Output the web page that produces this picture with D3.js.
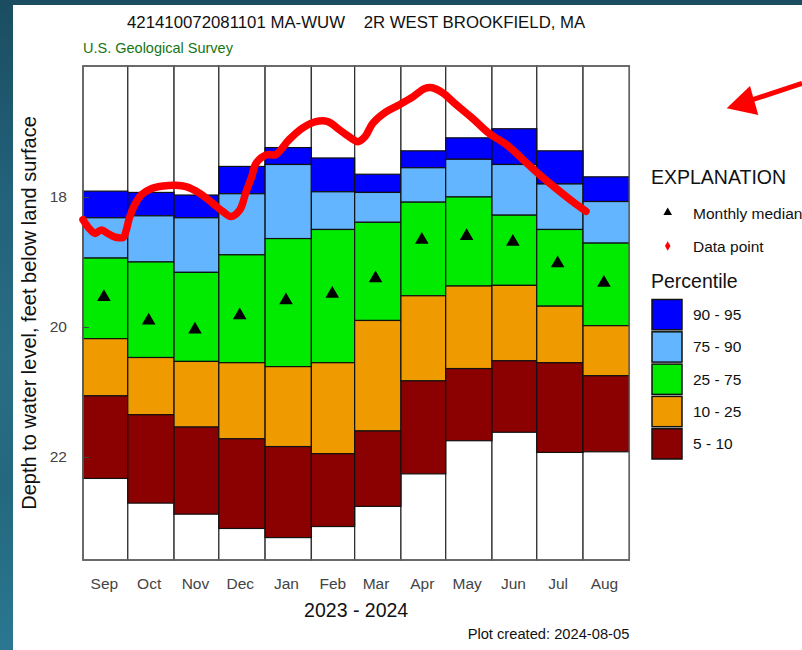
<!DOCTYPE html>
<html><head><meta charset="utf-8">
<script src="https://cdn.jsdelivr.net/npm/d3@7"></script>
<style>
html,body{margin:0;padding:0;overflow:hidden;background:#1e5a70}
text{font-family:"Liberation Sans",Arial,Helvetica,sans-serif}
</style>
</head><body>
<svg id="c" width="802" height="650"></svg>
<script>
// ---------------- data ----------------
const months = ["Sep","Oct","Nov","Dec","Jan","Feb","Mar","Apr","May","Jun","Jul","Aug"];
const monthStarts = ["2023-09-01","2023-10-01","2023-11-01","2023-12-01","2024-01-01","2024-02-01",
  "2024-03-01","2024-04-01","2024-05-01","2024-06-01","2024-07-01","2024-08-01","2024-09-01"];
const monthMids = ["2023-09-15","2023-10-15","2023-11-15","2023-12-15","2024-01-15","2024-02-15",
  "2024-03-15","2024-04-15","2024-05-15","2024-06-15","2024-07-15","2024-08-15"];

const p95 = [17.91,17.93,17.97,17.53,17.24,17.40,17.65,17.29,17.09,16.95,17.29,17.69];
const p90 = [18.32,18.29,18.32,17.95,17.50,17.92,17.93,17.55,17.42,17.50,17.80,18.07];
const p75 = [18.94,19.00,19.16,18.89,18.64,18.50,18.39,18.08,18.00,18.28,18.50,18.71];
const medians = [19.54,19.90,20.04,19.82,19.59,19.49,19.25,18.66,18.60,18.69,19.02,19.32];
const p25 = [20.18,20.47,20.53,20.55,20.61,20.55,19.90,19.52,19.37,19.36,19.68,19.98];
const p10 = [21.06,21.35,21.54,21.72,21.84,21.95,21.60,20.83,20.64,20.52,20.55,20.75];
const p5  = [22.33,22.71,22.88,23.10,23.24,23.07,22.76,22.26,21.75,21.62,21.93,21.92];

const obsDates = ["2023-09-01","2023-09-05","2023-09-09","2023-09-13","2023-09-19","2023-09-23","2023-09-28",
  "2023-09-30","2023-10-02","2023-10-05","2023-10-10","2023-10-17","2023-10-25","2023-11-02","2023-11-09",
  "2023-11-18","2023-11-27","2023-12-04","2023-12-09","2023-12-15","2023-12-19","2023-12-23","2023-12-26",
  "2024-01-02","2024-01-08","2024-01-17","2024-01-26","2024-02-04","2024-02-12","2024-02-20","2024-02-28",
  "2024-03-03","2024-03-08","2024-03-13","2024-03-22","2024-03-31","2024-04-09","2024-04-17","2024-04-22",
  "2024-04-29","2024-05-08","2024-05-19","2024-05-30","2024-06-11","2024-06-22","2024-07-03","2024-07-14",
  "2024-07-25","2024-08-03"];
const obsDepths = [18.35,18.48,18.56,18.51,18.58,18.62,18.62,
  18.51,18.33,18.15,17.97,17.87,17.83,17.82,17.84,
  17.94,18.10,18.23,18.30,18.20,17.94,17.69,17.48,
  17.35,17.35,17.12,16.94,16.84,16.84,16.97,17.10,
  17.15,17.07,16.87,16.69,16.58,16.46,16.33,16.32,
  16.40,16.58,16.79,17.02,17.20,17.43,17.66,17.87,
  18.07,18.22];

const yTicks = [18, 20, 22];
const yDomain = [15.985, 23.585];
const bandLabels = ["90 - 95","75 - 90","25 - 75","10 - 25","5 - 10"];
const bandColors = ["#0000ff","#63b5ff","#00eb00","#ef9b00","#8b0000"];

// ---------------- layout ----------------
const W = 802, H = 650;
const plot = {left: 83, right: 629.3, top: 66, bottom: 560};
const parse = d3.utcParse("%Y-%m-%d");

const svg = d3.select("#c");
const defs = svg.append("defs");
const bg = defs.append("linearGradient").attr("id","bg").attr("x1",0).attr("y1",0).attr("x2",0).attr("y2",1);
[["0%","#1b4d61"],["30%","#22627a"],["55%","#286d84"],["75%","#23687e"],["100%","#2b7791"]]
  .forEach(([o,c]) => bg.append("stop").attr("offset",o).attr("stop-color",c));
svg.append("rect").attr("width",W).attr("height",H).attr("fill","url(#bg)");
svg.append("rect").attr("x",13).attr("y",5).attr("width",W-13).attr("height",H-5).attr("fill","#fff");

const x = d3.scaleUtc().domain([parse(monthStarts[0]), parse(monthStarts[12])]).range([plot.left, plot.right]);
const y = d3.scaleLinear().domain(yDomain).range([plot.top, plot.bottom]);

// columns
const g = svg.append("g");
const cols = months.map((m,i) => ({
  m, x0: x(parse(monthStarts[i])), x1: x(parse(monthStarts[i+1])),
  bands: [[p95[i],p90[i]],[p90[i],p75[i]],[p75[i],p25[i]],[p25[i],p10[i]],[p10[i],p5[i]]]
}));
g.selectAll("rect.col").data(cols).join("rect").attr("class","col")
  .attr("x",d=>d.x0).attr("width",d=>d.x1-d.x0)
  .attr("y",plot.top).attr("height",plot.bottom-plot.top)
  .attr("fill","#fff").attr("stroke","#333").attr("stroke-width",1.3);
cols.forEach(c => {
  g.selectAll(null).data(c.bands).join("rect")
    .attr("x",c.x0).attr("width",c.x1-c.x0)
    .attr("y",d=>y(d[0])).attr("height",d=>y(d[1])-y(d[0]))
    .attr("fill",(d,k)=>bandColors[k]).attr("stroke","#111").attr("stroke-width",1.2);
});

// frame
svg.append("rect").attr("x",plot.left).attr("y",plot.top)
  .attr("width",plot.right-plot.left).attr("height",plot.bottom-plot.top)
  .attr("fill","none").attr("stroke","#666").attr("stroke-width",1.5);

// medians
svg.append("g").selectAll("path").data(medians).join("path")
  .attr("d", d3.symbol(d3.symbolTriangle, 80))
  .attr("transform",(d,i)=>`translate(${x(parse(monthMids[i]))},${y(d)})`)
  .attr("fill","#000");

// data line
const obs = obsDates.map((d,i)=>({date:parse(d), depth:obsDepths[i]}));
svg.append("path").datum(obs)
  .attr("d", d3.line().x(d=>x(d.date)).y(d=>y(d.depth)).curve(d3.curveCatmullRom))
  .attr("fill","none").attr("stroke","#ff0000").attr("stroke-width",7.5)
  .attr("stroke-linejoin","round").attr("stroke-linecap","round");

// y axis
const ya = svg.append("g").attr("transform",`translate(${plot.left},0)`)
  .call(d3.axisLeft(y).tickValues(yTicks).tickSize(-6).tickPadding(16).tickFormat(d3.format("d")));
ya.select(".domain").remove();
ya.selectAll("line").attr("stroke","#444");
ya.selectAll("text").attr("font-size","15.5px").attr("fill","#444")
  .style("font-family","'Liberation Sans',Arial,sans-serif");

// x axis (month labels)
const xa = svg.append("g").attr("transform",`translate(0,${plot.bottom})`)
  .call(d3.axisBottom(x).tickValues(monthMids.map(parse)).tickSize(0).tickPadding(18)
    .tickFormat((d,i)=>months[i]));
xa.select(".domain").remove();
xa.selectAll("text").attr("font-size","15.5px").attr("fill","#444")
  .style("font-family","'Liberation Sans',Arial,sans-serif");

// titles
const cx = (plot.left+plot.right)/2;
svg.append("text").attr("x",cx).attr("y",28).attr("text-anchor","middle")
  .attr("font-size","16.8px").attr("fill","#111").style("white-space","pre")
  .text("421410072081101 MA-WUW    2R WEST BROOKFIELD, MA");
svg.append("text").attr("x",plot.left).attr("y",53).attr("font-size","14.5px").attr("fill","#167516")
  .text("U.S. Geological Survey");
svg.append("text").attr("transform",`translate(36,${(plot.top+plot.bottom)/2}) rotate(-90)`)
  .attr("text-anchor","middle").attr("font-size","20px").attr("fill","#111")
  .text("Depth to water level, feet below land surface");
svg.append("text").attr("x",cx).attr("y",617).attr("text-anchor","middle")
  .attr("font-size","19.5px").attr("fill","#111").text("2023 - 2024");
svg.append("text").attr("x",plot.right).attr("y",639).attr("text-anchor","end")
  .attr("font-size","14.7px").attr("fill","#111").text("Plot created: 2024-08-05");

// legend
const lg = svg.append("g");
lg.append("text").attr("x",651).attr("y",184).attr("font-size","19.5px").attr("fill","#111").text("EXPLANATION");
lg.append("path").attr("d",d3.symbol(d3.symbolTriangle,32)).attr("transform","translate(667.7,212.5)").attr("fill","#000");
lg.append("text").attr("x",693).attr("y",219).attr("font-size","15.5px").attr("fill","#111").text("Monthly median");
lg.append("path").attr("d",d3.symbol(d3.symbolDiamond,26)).attr("transform","translate(667.7,246)").attr("fill","#ff0000");
lg.append("text").attr("x",693).attr("y",252).attr("font-size","15.5px").attr("fill","#111").text("Data point");
lg.append("text").attr("x",651).attr("y",288).attr("font-size","19.5px").attr("fill","#111").text("Percentile");
lg.selectAll("rect.key").data(bandLabels).join("rect").attr("class","key")
  .attr("x",652).attr("y",(d,i)=>299.5+i*32.3).attr("width",30).attr("height",30.3)
  .attr("fill",(d,i)=>bandColors[i]).attr("stroke","#111").attr("stroke-width",1.5);
lg.selectAll("text.key").data(bandLabels).join("text").attr("class","key")
  .attr("x",693).attr("y",(d,i)=>299.5+i*32.3+20.5).attr("font-size","15.5px").attr("fill","#111")
  .text(d=>d);

// annotation arrow
const ar = svg.append("g").attr("fill","#ff0000");
ar.append("line").attr("x1",802).attr("y1",83.3).attr("x2",750).attr("y2",100.5)
  .attr("stroke","#ff0000").attr("stroke-width",5);
ar.append("polygon").attr("points","726.7,108.3 750,86 758.3,115");
</script>
</body></html>
